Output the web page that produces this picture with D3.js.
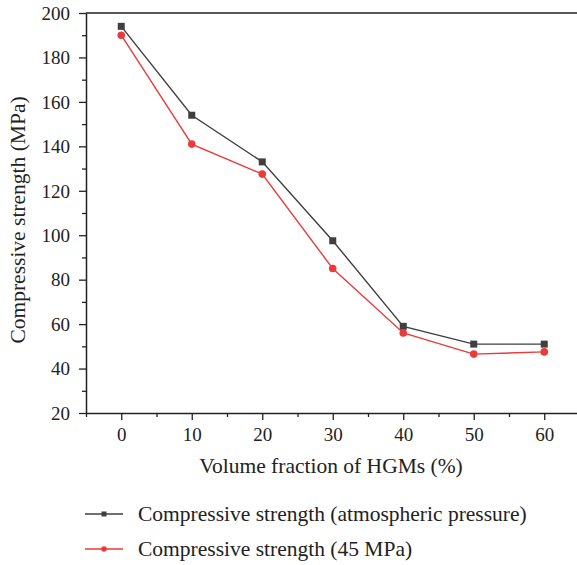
<!DOCTYPE html>
<html>
<head>
<meta charset="utf-8">
<script src="https://cdn.jsdelivr.net/npm/d3@7"></script>
<style>
  body { margin: 0; background: #fff; }
  svg text { font-family: "Liberation Serif", "DejaVu Serif", serif; fill: #222; }
</style>
</head>
<body>
<div id="chart"></div>
<script>
var volumes = [0, 10, 20, 30, 40, 50, 60];
var atmospheric = [194, 154, 133, 97.5, 59, 51, 51];
var highPressure = [190, 141, 127.5, 85, 56, 46.5, 47.5];
var xTicks = [0, 10, 20, 30, 40, 50, 60];
var yTicks = [20, 40, 60, 80, 100, 120, 140, 160, 180, 200];
var seriesNames = ["Compressive strength (atmospheric pressure)", "Compressive strength (45 MPa)"];

var W = 577, H = 565;
var margin = {top: 13, right: 0, bottom: 152, left: 86};
var width = W - margin.left - margin.right,
    height = H - margin.top - margin.bottom;

var svg = d3.select("#chart").append("svg")
    .attr("width", W)
    .attr("height", H)
  .append("g")
    .attr("transform", "translate(" + margin.left + "," + margin.top + ")");

var xScale = d3.scaleLinear().domain([-5, 65]).range([0, 70.5 * 7]);
var yScale = d3.scaleLinear().domain([20, 200]).range([height, 0]);

// minor ticks
svg.append("g")
    .attr("transform", "translate(0," + height + ")")
    .call(d3.axisBottom(xScale).tickValues([-5, 5, 15, 25, 35, 45, 55, 65]).tickSize(4).tickFormat(""))
    .call(function(g) { g.select(".domain").remove(); })
    .selectAll("line").attr("stroke", "#222").attr("stroke-width", 1.3);

svg.append("g")
    .call(d3.axisLeft(yScale).tickValues([30, 50, 70, 90, 110, 130, 150, 170, 190]).tickSize(4).tickFormat(""))
    .call(function(g) { g.select(".domain").remove(); })
    .selectAll("line").attr("stroke", "#222").attr("stroke-width", 1.3);

var xAxis = svg.append("g")
    .attr("transform", "translate(0," + height + ")")
    .call(d3.axisBottom(xScale).tickValues(xTicks).tickSize(7).tickPadding(8).tickSizeOuter(0));
xAxis.selectAll("text").style("font-size", "19px");

var yAxis = svg.append("g")
    .call(d3.axisLeft(yScale).tickValues(yTicks).tickSize(7).tickPadding(9).tickSizeOuter(0));
yAxis.selectAll("text").style("font-size", "19px").attr("dy", "0.33em");

svg.selectAll(".domain").attr("stroke", "#222").attr("stroke-width", 1.5);
svg.selectAll(".tick line").attr("stroke", "#222").attr("stroke-width", 1.3);

// top frame line
svg.append("line")
    .attr("x1", 0).attr("x2", width)
    .attr("y1", 0).attr("y2", 0)
    .attr("stroke", "#222").attr("stroke-width", 1.5);

svg.append("text")
    .attr("transform", "rotate(-90)")
    .attr("x", -207)
    .attr("y", -61)
    .style("text-anchor", "middle")
    .style("font-size", "21.5px")
    .text("Compressive strength (MPa)");

svg.append("text")
    .attr("x", 245)
    .attr("y", height + 60)
    .style("text-anchor", "middle")
    .style("font-size", "21.5px")
    .text("Volume fraction of HGMs (%)");

var line = d3.line()
    .x(function(d) { return xScale(d.x); })
    .y(function(d) { return yScale(d.y); });

var series = [
    {name: seriesNames[0], colour: "#3f3f3f", shape: "square", values: atmospheric},
    {name: seriesNames[1], colour: "#ec3a3a", shape: "circle", values: highPressure}
];

series.forEach(function(s) {
    var pts = volumes.map(function(v, i) { return {x: v, y: s.values[i]}; });
    svg.append("path")
        .attr("d", line(pts))
        .attr("fill", "none")
        .attr("stroke", s.colour)
        .attr("stroke-width", 1.4);
    if (s.shape === "square") {
        svg.selectAll(".sq").data(pts).enter().append("rect")
            .attr("x", function(d) { return xScale(d.x) - 3.5; })
            .attr("y", function(d) { return yScale(d.y) - 3.5; })
            .attr("width", 7).attr("height", 7)
            .attr("fill", s.colour);
    } else {
        svg.selectAll(".ci").data(pts).enter().append("circle")
            .attr("cx", function(d) { return xScale(d.x); })
            .attr("cy", function(d) { return yScale(d.y); })
            .attr("r", 3.8)
            .attr("fill", s.colour);
    }
});

// legend
var legend = d3.select("svg").append("g");
series.forEach(function(s, i) {
    var ly = 514 + i * 35;
    legend.append("line")
        .attr("x1", 85).attr("x2", 123)
        .attr("y1", ly).attr("y2", ly)
        .attr("stroke", s.colour).attr("stroke-width", 1.4);
    if (s.shape === "square") {
        legend.append("rect").attr("x", 101.5).attr("y", ly - 2.5).attr("width", 5).attr("height", 5).attr("fill", s.colour);
    } else {
        legend.append("circle").attr("cx", 104).attr("cy", ly).attr("r", 2.8).attr("fill", s.colour);
    }
    legend.append("text")
        .attr("x", 138)
        .attr("y", ly)
        .attr("dy", "0.33em")
        .style("font-size", "21.5px")
        .text(s.name);
});
</script>
</body>
</html>
